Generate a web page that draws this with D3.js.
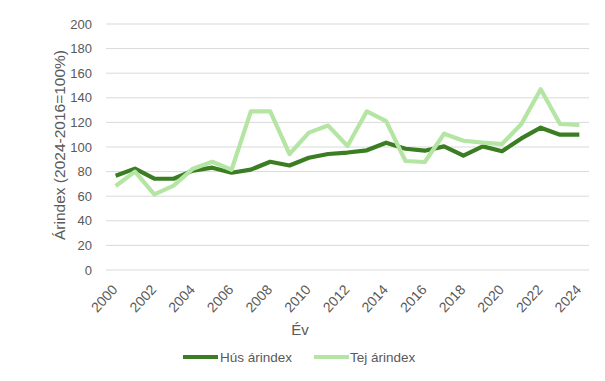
<!DOCTYPE html>
<html><head><meta charset="utf-8">
<script src="https://cdn.jsdelivr.net/npm/d3@7"></script>
<style>body{margin:0;background:#fff;}svg{display:block;font-family:Arial,"Liberation Sans",sans-serif;}</style>
</head><body><svg id="c" width="605" height="381"></svg>
<script>
const years = d3.range(2000, 2025).map(String);
const husValues = [76.7,82.4,74.2,74.2,80.8,83.2,79.1,81.6,88,85,91.3,94.3,95.5,97.3,103.5,98.6,97,100.5,93,100.5,96.5,107,115.7,110,110];
const tejValues = [68.3,80,61.5,68.6,82.4,88,81.5,129,129,94.3,111.7,117.4,100.8,129,121,88.6,87.8,110.8,105.1,103.5,102.4,118.7,146.9,118.7,117.9];
const yTicks = [0,20,40,60,80,100,120,140,160,180,200];
const xTickLabels = years.filter((d,i)=>i%2===0);
const seriesNames = ["Hús árindex","Tej árindex"];
const colors = ["#3A7D22","#B4E5A2"];

const svg = d3.select("#c");
const x = d3.scaleBand().domain(years).range([106,589]);
const y = d3.scaleLinear().domain([0,200]).range([270,24]);
const txt = "#595959";
const ff = "Arial,'Liberation Sans',sans-serif";

// grid
svg.append("g").selectAll("line").data(yTicks).join("line")
  .attr("x1",106).attr("x2",589).attr("y1",d=>y(d)).attr("y2",d=>y(d))
  .attr("stroke","#d9d9d9").attr("stroke-width",1);

// y axis labels
const ya = svg.append("g").attr("transform","translate(106,0)")
  .call(d3.axisLeft(y).tickValues(yTicks).tickSize(0).tickPadding(14));
ya.select(".domain").remove();
ya.selectAll("text").attr("fill",txt).style("font-size","13px").style("font-family",ff);

// x axis labels
const xa = svg.append("g").attr("transform","translate(0,270)")
  .call(d3.axisBottom(x).tickValues(xTickLabels).tickSize(0));
xa.select(".domain").remove();
xa.selectAll("text").attr("fill",txt).style("font-size","14px").style("font-family",ff)
  .attr("text-anchor","end").attr("dy","0.35em").attr("dx","0")
  .attr("transform","translate(-3,15) rotate(-47)");

// titles
svg.append("text").attr("x",300).attr("y",335).attr("text-anchor","middle")
  .attr("fill",txt).style("font-size","15px").text("Év");
svg.append("text").attr("transform","translate(65,145) rotate(-90)").attr("text-anchor","middle")
  .attr("fill",txt).style("font-size","15.5px").text("Árindex (2024-2016=100%)");

// lines
const line = d3.line().x((d,i)=>x(years[i])+x.bandwidth()/2).y(d=>y(d));
[husValues,tejValues].forEach((vals,k)=>{
  svg.append("path").datum(vals).attr("d",line).attr("fill","none")
    .attr("stroke",colors[k]).attr("stroke-width",4.2).attr("stroke-linejoin","round");
});
// legend
const lg = [{x:183,tx:220},{x:314,tx:350}];
seriesNames.forEach((n,k)=>{
  svg.append("line").attr("x1",lg[k].x).attr("x2",lg[k].x+35).attr("y1",357).attr("y2",357)
    .attr("stroke",colors[k]).attr("stroke-width",4.2);
  svg.append("text").attr("x",lg[k].tx).attr("y",361.5).attr("fill",txt).style("font-size","13.5px").text(n);
});
</script></body></html>
